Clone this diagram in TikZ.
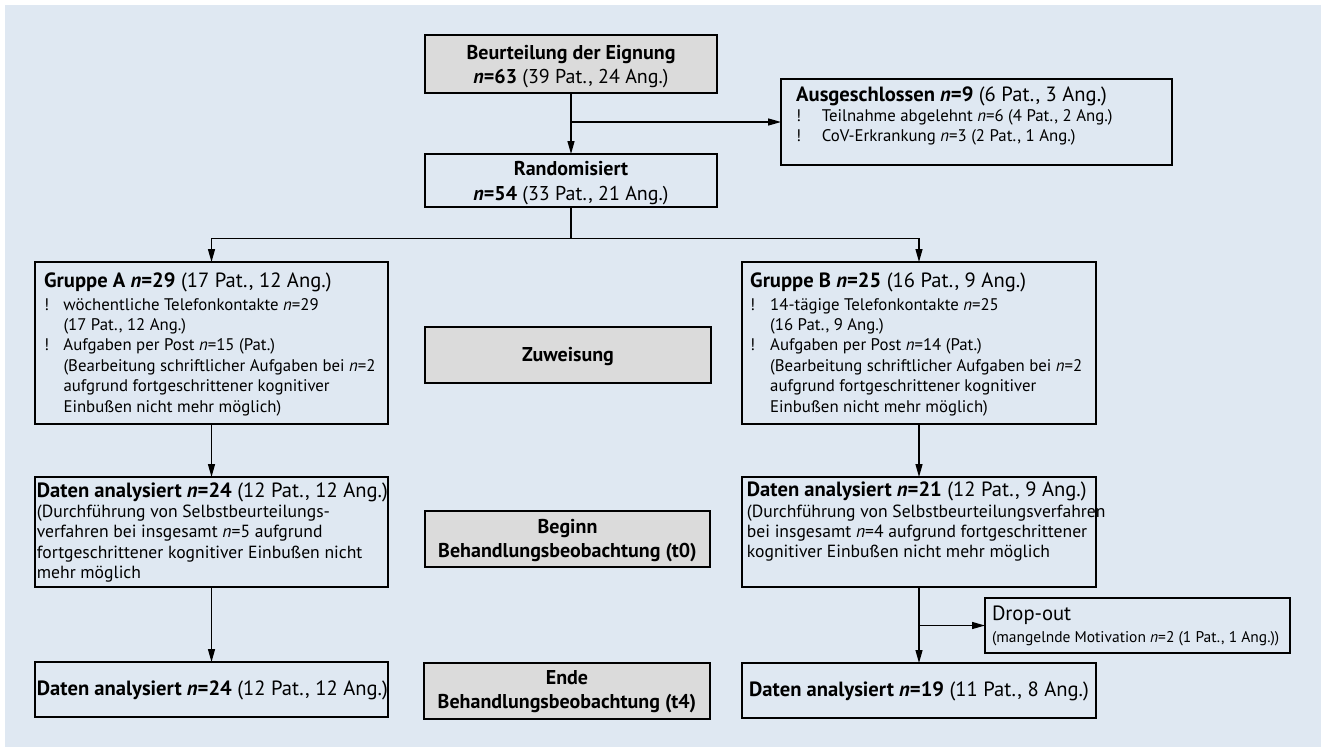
\documentclass[tikz,border=0pt]{standalone}
\usepackage{fontspec}
\setmainfont{PT Sans}
\usetikzlibrary{arrows.meta,calc}
\definecolor{bg}{RGB}{223,232,242}
\definecolor{gr}{RGB}{219,219,219}
\newlength\bind
\newcommand\hd{\fontsize{20.6}{23}\selectfont}
\newcommand\gd{\fontsize{20}{24.4}\selectfont}
\newcommand\bd{\fontsize{16.8}{20.4}\selectfont}
\newcommand\db{\fontsize{17.6}{20.3}\selectfont}
\newcommand\bl[1]{\makebox[\bind][l]{!}#1}
\newcommand\ct[1]{\hspace*{\bind}#1}
\newcommand\ltx[1]{\begin{minipage}[t]{420pt}\raggedright\parindent=0pt #1\end{minipage}}
\newcommand\ctx[1]{\begin{minipage}[t]{400pt}\centering\parindent=0pt #1\end{minipage}}
\begin{document}
\begin{tikzpicture}[x=1pt,y=-1pt,
  bx/.style={draw, line width=1.8pt, inner sep=0pt, outer sep=0pt},
  gbx/.style={bx, fill=gr},
  lbl/.style={inner sep=0pt, anchor=base west},
  clbl/.style={inner sep=0pt, anchor=base},
  conn/.style={line width=1.3pt, -{Triangle[length=13pt,width=7pt]}},
  ln/.style={line width=1.3pt}]
\useasboundingbox (0,0) rectangle (1321,747);
\fill[bg] (5,5) rectangle (1321,747);

% boxes
\node[gbx, minimum width=292pt, minimum height=58pt] (elig) at (571,64) {};
\node[bx, minimum width=391pt, minimum height=86pt] (excl) at (976.5,122) {};
\node[bx, minimum width=292pt, minimum height=53pt] (rand) at (571,180.5) {};
\node[bx, minimum width=353pt, minimum height=162pt] (grpA) at (211.5,343) {};
\node[bx, minimum width=354pt, minimum height=162pt] (grpB) at (919,343) {};
\node[gbx, minimum width=286pt, minimum height=56pt] (zuw) at (568,355) {};
\node[bx, minimum width=353pt, minimum height=110pt] (datA) at (211.5,532) {};
\node[bx, minimum width=354pt, minimum height=110pt] (datB) at (919,532) {};
\node[gbx, minimum width=285pt, minimum height=56pt] (beg) at (567.5,539) {};
\node[bx, minimum width=305pt, minimum height=55pt] (drop) at (1137.5,625.5) {};
\node[bx, minimum width=353pt, minimum height=55pt] (endA) at (211.5,689.5) {};
\node[gbx, minimum width=286pt, minimum height=56pt] (ende) at (567,691) {};
\node[bx, minimum width=354pt, minimum height=55pt] (endB) at (919,690.5) {};

% texts
\node[clbl] (eligT) at (571,59) {\ctx{\gd\textbf{Beurteilung der Eignung}\\\textbf{\textit{n}=63} (39 Pat., 24 Ang.)}};
\node[clbl] (randT) at (571,175.7) {\ctx{\gd\textbf{Randomisiert}\\\textbf{\textit{n}=54} (33 Pat., 21 Ang.)}};
\node[lbl] (exclT) at (796,101) {\ltx{{\hd\textbf{Ausgeschlossen \textit{n}=9} (6 Pat., 3 Ang.)\par}
  {\bd\setlength\bind{25.7pt}\bl{Teilnahme abgelehnt \textit{n}=6 (4 Pat., 2 Ang.)}\\
  \bl{CoV-Erkrankung \textit{n}=3 (2 Pat., 1 Ang.)}\par}}};
\node[lbl] (grpAT) at (44,287.3) {\ltx{{\hd\textbf{Gruppe A \textit{n}=29} (17 Pat., 12 Ang.)\par}\vspace{2.3pt}
  {\bd\setlength\bind{19.3pt}\bl{wöchentliche Telefonkontakte \textit{n}=29}\\
  \ct{(17 Pat., 12 Ang.)}\\
  \bl{Aufgaben per Post \textit{n}=15 (Pat.)}\\
  \ct{(Bearbeitung schriftlicher Aufgaben bei \textit{n}=2}\\
  \ct{aufgrund fortgeschrittener kognitiver}\\
  \ct{Einbußen nicht mehr möglich)}\par}}};
\node[lbl] (grpBT) at (750,287.3) {\ltx{{\hd\textbf{Gruppe B \textit{n}=25} (16 Pat., 9 Ang.)\par}\vspace{2.3pt}
  {\bd\setlength\bind{20pt}\bl{14-tägige Telefonkontakte \textit{n}=25}\\
  \ct{(16 Pat., 9 Ang.)}\\
  \bl{Aufgaben per Post \textit{n}=14 (Pat.)}\\
  \ct{(Bearbeitung schriftlicher Aufgaben bei \textit{n}=2}\\
  \ct{aufgrund fortgeschrittener kognitiver}\\
  \ct{Einbußen nicht mehr möglich)}\par}}};
\node[clbl] (zuwT) at (568,361) {\ctx{\gd\textbf{Zuweisung}}};
\node[lbl] (datAT) at (36.7,497.3) {\ltx{{\hd\textbf{Daten analysiert \textit{n}=24} (12 Pat., 12 Ang.)\par}
  {\db (Durchführung von Selbstbeurteilungs-\\
  verfahren bei insgesamt \textit{n}=5 aufgrund\\
  fortgeschrittener kognitiver Einbußen nicht\\
  mehr möglich\par}}};
\node[lbl] (datBT) at (746.7,496.7) {\ltx{{\hd\textbf{Daten analysiert \textit{n}=21} (12 Pat., 9 Ang.)\par}
  {\db (Durchführung von Selbstbeurteilungsverfahren\\
  bei insgesamt \textit{n}=4 aufgrund fortgeschrittener\\
  kognitiver Einbußen nicht mehr möglich\par}}};
\node[clbl] (begT) at (567.5,533.3) {\ctx{\gd\textbf{Beginn}\\\textbf{Behandlungsbeobachtung (t0)}}};
\node[lbl] (dropT) at (991.8,620.7) {\ltx{{\hd Drop-out\par}\vspace{3pt}
  {\fontsize{15.5}{19}\selectfont (mangelnde Motivation \textit{n}=2 (1 Pat., 1 Ang.))\par}}};
\node[lbl] (endAT) at (36.7,695) {\ltx{\hd\textbf{Daten analysiert \textit{n}=24} (12 Pat., 12 Ang.)}};
\node[clbl] (endeT) at (567,684) {\ctx{\gd\textbf{Ende}\\\textbf{Behandlungsbeobachtung (t4)}}};
\node[clbl] (endBT) at (919,696) {\ctx{\hd\textbf{Daten analysiert \textit{n}=19} (11 Pat., 8 Ang.)}};

% connectors
\draw[conn] (elig.south) -- (rand.north);
\coordinate (j1) at (elig.south |- excl.west);
\draw[conn] (j1) -- (excl.west);
\coordinate (j2) at ($(rand.south)+(0,31.5)$);
\draw[ln] (rand.south) -- (j2);
\draw[conn] (j2) -| (grpA.north);
\draw[conn] (j2) -| (grpB.north);
\draw[conn] (grpA.south) -- (datA.north);
\draw[conn] (datA.south) -- (endA.north);
\draw[conn] (grpB.south) -- (datB.north);
\draw[conn] (datB.south) -- (endB.north);
\coordinate (j3) at (datB.south |- drop.west);
\draw[conn] (j3) -- (drop.west);
\end{tikzpicture}
\end{document}
